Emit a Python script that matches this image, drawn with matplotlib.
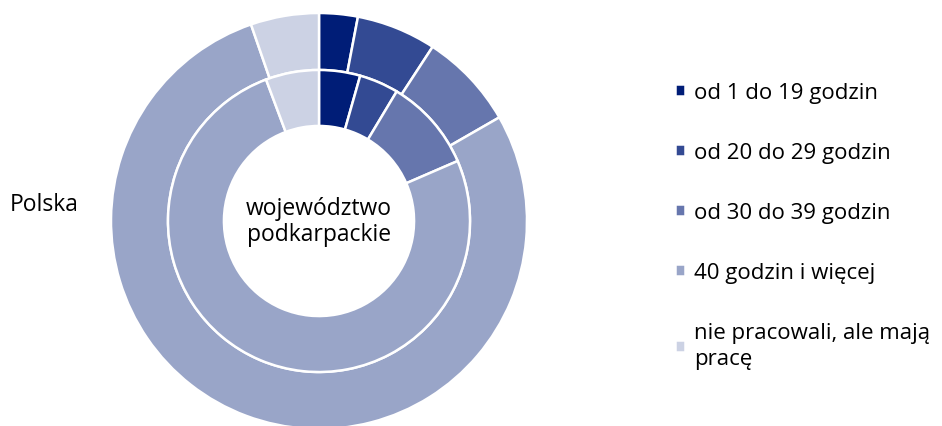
import matplotlib
matplotlib.use("Agg")
import matplotlib.pyplot as plt

categories = ["od 1 do 19 godzin", "od 20 do 29 godzin", "od 30 do 39 godzin",
              "40 godzin i więcej", "nie pracowali, ale mają\npracę"]
polska = [3.0, 6.2, 7.5, 78.0, 5.3]
podkarpackie = [4.4, 4.2, 9.9, 75.8, 5.7]
colors = ["#001d77", "#334a93", "#6676ad", "#99a5c8", "#ccd2e4"]

plt.rcParams['font.family'] = ['Open Sans', 'DejaVu Sans']

fig = plt.figure(figsize=(9.42, 4.27), dpi=100)
ax = fig.add_axes([111 / 942, (427 - 222 - 208) / 427, 416 / 942, 416 / 427])

wedges, _ = ax.pie(polska, radius=1.0, colors=colors, startangle=90, counterclock=False,
                   wedgeprops=dict(width=0.274, edgecolor="white", linewidth=1.8))
ax.pie(podkarpackie, radius=0.726, colors=colors, startangle=90, counterclock=False,
       wedgeprops=dict(width=0.269, edgecolor="white", linewidth=1.8))
ax.set_xlim(-1, 1)
ax.set_ylim(-1, 1)
ax.set_aspect("equal")
ax.axis("off")

ax.text(0, 0.0, "województwo\npodkarpackie", ha="center", va="center",
        fontsize=16.5, linespacing=1.15)
fig.text(10 / 942, 1 - 205 / 427, "Polska", ha="left", va="center", fontsize=16.5)

leg = fig.legend(wedges, categories, loc="upper left", bbox_to_anchor=(664 / 942, 1 - 72 / 427),
                 frameon=False, fontsize=16, handlelength=0.45, handleheight=0.45,
                 handletextpad=0.4, labelspacing=1.75, borderpad=0)
for t in leg.get_texts():
    t.set_linespacing(1.35)

fig.savefig("out.png", dpi=100)
